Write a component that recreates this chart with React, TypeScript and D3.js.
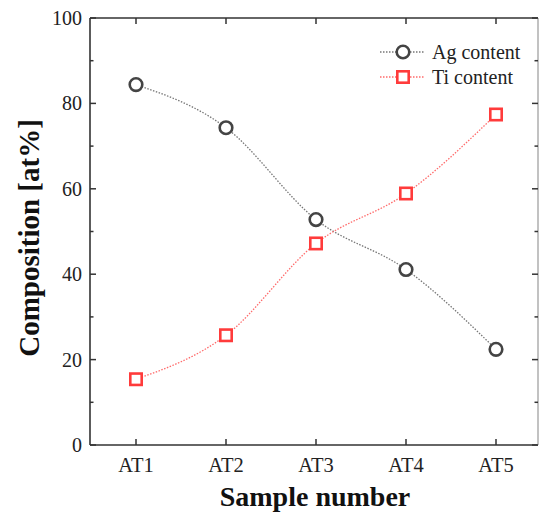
import React from "react";
import * as d3 from "d3";

const categories = ["AT1", "AT2", "AT3", "AT4", "AT5"];
const agContent = [84.4, 74.3, 52.8, 41.1, 22.4];
const tiContent = [15.4, 25.7, 47.2, 58.9, 77.4];
const yMajorTicks = [0, 20, 40, 60, 80, 100];
const yMinorTicks = [10, 30, 50, 70, 90];

const W = 540, H = 515;
const L = 90, R = 538, T = 18, B = 445;

export default function App() {
  const x = d3.scaleLinear().domain([0, 4]).range([136, 496]);
  const y = d3.scaleLinear().domain([0, 100]).range([B, T]);
  const line = d3
    .line<number>()
    .x((_, i) => x(i))
    .y((d) => y(d))
    .curve(d3.curveMonotoneX);
  const font = "'Liberation Serif', 'Times New Roman', serif";
  const axisColor = "#333";
  const agColor = "#444";
  const tiColor = "#ff3b3b";
  return (
    <svg width={W} height={H} style={{ position: "absolute", left: 0, top: 0 }} fontFamily={font}>
      <rect x={0} y={0} width={W} height={H} fill="#fff" />
      {/* curves */}
      <path d={line(agContent) || ""} fill="none" stroke="#777" strokeWidth={1.3} strokeDasharray="1.5,1.5" />
      <path d={line(tiContent) || ""} fill="none" stroke="#ff6b6b" strokeWidth={1.3} strokeDasharray="1.5,1.5" />
      {/* markers */}
      {agContent.map((v, i) => (
        <circle key={"a" + i} cx={x(i)} cy={y(v)} r={6.3} fill="#fff" stroke={agColor} strokeWidth={2.6} />
      ))}
      {tiContent.map((v, i) => (
        <rect key={"t" + i} x={x(i) - 5.7} y={y(v) - 5.7} width={11.4} height={11.4} fill="#fff" stroke={tiColor} strokeWidth={2.6} />
      ))}
      {/* frame */}
      <line x1={L} x2={R} y1={B} y2={B} stroke={axisColor} strokeWidth={1.6} />
      <line x1={L} x2={R} y1={T} y2={T} stroke={axisColor} strokeWidth={1.6} />
      <line x1={L} x2={L} y1={T} y2={B} stroke={axisColor} strokeWidth={1.6} />
      <line x1={R} x2={R} y1={T} y2={B} stroke="#999" strokeWidth={1.2} />
      {/* x ticks */}
      {categories.map((c, i) => (
        <g key={c}>
          <line x1={x(i)} x2={x(i)} y1={B} y2={B - 6} stroke={axisColor} strokeWidth={1.5} />
          <line x1={x(i)} x2={x(i)} y1={T} y2={T + 6} stroke={axisColor} strokeWidth={1.5} />
          <text x={x(i)} y={472} textAnchor="middle" fontSize={20.5} fill="#222">{c}</text>
        </g>
      ))}
      {/* y ticks */}
      {yMajorTicks.map((t) => (
        <g key={"m" + t}>
          <line x1={L} x2={L + 6} y1={y(t)} y2={y(t)} stroke={axisColor} strokeWidth={1.5} />
          <line x1={R} x2={R - 6} y1={y(t)} y2={y(t)} stroke={axisColor} strokeWidth={1.5} />
          <text x={82} y={y(t) + 7} textAnchor="end" fontSize={20} fill="#222">{t}</text>
        </g>
      ))}
      {yMinorTicks.map((t) => (
        <g key={"n" + t}>
          <line x1={L} x2={L + 3.5} y1={y(t)} y2={y(t)} stroke={axisColor} strokeWidth={1.5} />
          <line x1={R} x2={R - 3.5} y1={y(t)} y2={y(t)} stroke={axisColor} strokeWidth={1.5} />
        </g>
      ))}
      {/* axis titles */}
      <text x={315} y={506} textAnchor="middle" fontSize={28} fontWeight="bold" fill="#111">Sample number</text>
      <text transform={`translate(39,238) rotate(-90)`} textAnchor="middle" fontSize={29} fontWeight="bold" fill="#111">Composition [at%]</text>
      {/* legend */}
      <g>
        <line x1={380} x2={424} y1={52} y2={52} stroke="#777" strokeWidth={1.3} strokeDasharray="1.5,1.5" />
        <circle cx={403} cy={52} r={6.3} fill="#fff" stroke={agColor} strokeWidth={2.6} />
        <text x={432} y={59} fontSize={20} fill="#222">Ag content</text>
        <line x1={380} x2={424} y1={77} y2={77} stroke="#ff6b6b" strokeWidth={1.3} strokeDasharray="1.5,1.5" />
        <rect x={397.3} y={71.3} width={11.4} height={11.4} fill="#fff" stroke={tiColor} strokeWidth={2.6} />
        <text x={432} y={84} fontSize={20} fill="#222">Ti content</text>
      </g>
    </svg>
  );
}
